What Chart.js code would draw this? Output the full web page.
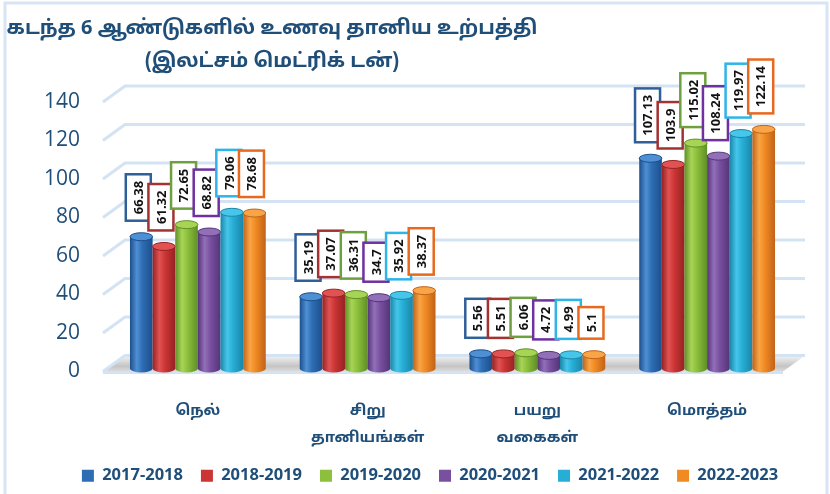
<!DOCTYPE html>
<html>
<head>
<meta charset="utf-8">
<script src="https://cdn.jsdelivr.net/npm/chart.js@4.4.1/dist/chart.umd.min.js"></script>
<style>
  html, body { margin: 0; padding: 0; background: #fff; }
  #wrap { width: 830px; height: 494px; }
</style>
</head>
<body>
<div id="wrap"><canvas id="grainChart"></canvas></div>
<script>
// data
const categories = [['நெல்'], ['சிறு', 'தானியங்கள்'], ['பயறு', 'வகைகள்'], ['மொத்தம்']];
const seriesNames = ['2017-2018', '2018-2019', '2019-2020', '2020-2021', '2021-2022', '2022-2023'];
const y2017 = [66.38, 35.19, 5.56, 107.13];
const y2018 = [61.32, 37.07, 5.51, 103.9];
const y2019 = [72.65, 36.31, 6.06, 115.02];
const y2020 = [68.82, 34.7, 4.72, 108.24];
const y2021 = [79.06, 35.92, 4.99, 119.97];
const y2022 = [78.68, 38.37, 5.1, 122.14];
const titleLines = ['கடந்த 6 ஆண்டுகளில் உணவு தானிய உற்பத்தி', '(இலட்சம் மெட்ரிக் டன்)'];

// colours: mid, dark edge, light highlight, label box border
const midCol = ['#2e6db4', '#cc3535', '#8cbf3c', '#7950a0', '#27aed6', '#f08a22'];
const darkCol = ['#1c4f8c', '#952222', '#5f8f26', '#553478', '#1a86a8', '#c0631a'];
const lightCol = ['#4f8fd4', '#e25252', '#a8d456', '#9270b8', '#45c6ea', '#f9a446'];
const boxCol = ['#2f5f98', '#a33232', '#6fa040', '#7030a0', '#2db5e8', '#e8691e'];
const navy = '#1f4e79';
const tamilFont = "'Noto Sans Tamil', 'Lohit Tamil', 'Noto Sans', 'DejaVu Sans', sans-serif";

const allSeries = [y2017, y2018, y2019, y2020, y2021, y2022];
const datasets = allSeries.map((vals, i) => ({
  label: seriesNames[i],
  data: vals,
  backgroundColor: 'rgba(0,0,0,0)', // cylinders are painted by the plugin
  borderWidth: 0,
  categoryPercentage: 0.8,
  barPercentage: 1.0
}));

// back wall offset for the fake 3d grid, and how far the bars sit up from the front
const DX = 22, DY = 16, LIFT = 7;

const frame3d = {
  id: 'frame3d',
  beforeDraw(chart) {
    const c = chart.ctx;
    c.save();
    c.fillStyle = '#fff';
    c.fillRect(0, 0, chart.width, chart.height);
    // outer frame
    c.strokeStyle = '#d6e4f3';
    c.lineWidth = 3;
    c.beginPath();
    c.moveTo(5, chart.height);
    c.lineTo(5, 3);
    c.lineTo(827, 3);
    c.lineTo(827, chart.height);
    c.stroke();
    // title
    c.fillStyle = navy;
    c.textAlign = 'center';
    c.textBaseline = 'middle';
    c.font = 'bold 20px ' + tamilFont;
    c.fillText(titleLines[0], 272, 30);
    c.fillText(titleLines[1], 272, 63);
    c.restore();
  },
  beforeDatasetsDraw(chart) {
    const c = chart.ctx;
    const ys = chart.scales.y;
    const a = chart.chartArea;
    c.save();
    // floor slab
    const y0 = ys.getPixelForValue(0);
    const g = c.createLinearGradient(0, y0 - DY, 0, y0 + 2);
    g.addColorStop(0, '#f4f4f4');
    g.addColorStop(0.6, '#c4c4c4');
    g.addColorStop(1, '#e6e6e6');
    c.fillStyle = g;
    c.beginPath();
    c.moveTo(a.left - 10, y0);
    c.lineTo(a.left - 10 + DX, y0 - DY);
    c.lineTo(a.right + 13, y0 - DY);
    c.lineTo(a.right - 9, y0);
    c.closePath();
    c.fill();
    // grid lines
    c.strokeStyle = '#d3e3f4';
    c.lineWidth = 3;
    ys.ticks.forEach(t => {
      const py = ys.getPixelForValue(t.value);
      c.beginPath();
      c.moveTo(a.left - 10, py);
      c.lineTo(a.left - 10 + DX, py - DY);
      c.lineTo(a.right + 13, py - DY);
      c.stroke();
    });
    c.beginPath();
    c.moveTo(a.left - 10, y0 + 1);
    c.lineTo(a.right - 9, y0 + 1);
    c.stroke();
    c.restore();
  },
  afterDatasetsDraw(chart) {
    const c = chart.ctx;
    c.save();
    // cylinders
    chart.data.datasets.forEach((ds, i) => {
      chart.getDatasetMeta(i).data.forEach(bar => {
        const p = bar.getProps(['x', 'y', 'base', 'width'], true);
        const x = p.x, w = p.width, top = p.y - LIFT, bot = p.base - 3;
        const l = x - w / 2, r = x + w / 2;
        const g = c.createLinearGradient(l, 0, r, 0);
        g.addColorStop(0, darkCol[i]);
        g.addColorStop(0.3, lightCol[i]);
        g.addColorStop(0.55, midCol[i]);
        g.addColorStop(1, darkCol[i]);
        c.fillStyle = g;
        c.beginPath();
        c.ellipse(x, bot, w / 2, 4, 0, 0, Math.PI);
        c.lineTo(l, top);
        c.lineTo(r, top);
        c.closePath();
        c.fill();
        c.fillStyle = lightCol[i];
        c.beginPath();
        c.ellipse(x, top, w / 2, 4, 0, 0, Math.PI * 2);
        c.fill();
        c.strokeStyle = darkCol[i];
        c.lineWidth = 1;
        c.stroke();
      });
    });
    // value labels in boxes, text turned on its side
    c.font = 'bold 13px "Open Sans", sans-serif';
    c.textAlign = 'center';
    c.textBaseline = 'middle';
    chart.data.datasets.forEach((ds, i) => {
      chart.getDatasetMeta(i).data.forEach((bar, j) => {
        const txt = String(ds.data[j]);
        const tw = c.measureText(txt).width;
        const bw = 25, bh = tw + 13;
        const cx = bar.x - 3;
        const bottom = bar.y - LIFT - 16;
        c.fillStyle = '#fff';
        c.fillRect(cx - bw / 2, bottom - bh, bw, bh);
        c.strokeStyle = boxCol[i];
        c.lineWidth = 2.5;
        c.strokeRect(cx - bw / 2, bottom - bh, bw, bh);
        c.save();
        c.translate(cx + 1, bottom - bh / 2);
        c.rotate(-Math.PI / 2);
        c.fillStyle = '#111';
        c.fillText(txt, 0, 0);
        c.restore();
      });
    });
    c.restore();
  }
};

const ctx = document.getElementById('grainChart').getContext('2d');
new Chart(ctx, {
  type: 'bar',
  data: { labels: categories, datasets: datasets },
  plugins: [frame3d],
  options: {
    responsive: true,
    maintainAspectRatio: false,
    animation: false,
    layout: { padding: { top: 102, right: 0, left: 30, bottom: 0 } },
    plugins: {
      title: { display: false },
      tooltip: { enabled: false },
      legend: {
        position: 'bottom',
        labels: {
          boxWidth: 12,
          boxHeight: 12,
          padding: 18,
          color: navy,
          font: { family: "'Open Sans', sans-serif", size: 16.5, weight: 'bold' },
          generateLabels(chart) {
            return Chart.defaults.plugins.legend.labels.generateLabels(chart).map((item, i) => ({
              ...item, fillStyle: midCol[i], strokeStyle: midCol[i], lineWidth: 0
            }));
          }
        }
      }
    },
    scales: {
      x: {
        grid: { display: false },
        border: { display: false },
        ticks: {
          color: navy,
          padding: 19,
          font: { family: tamilFont, size: 15, weight: 'bold', lineHeight: 1.8 }
        },
        afterFit(scale) { scale.height = 78; }
      },
      y: {
        min: 0,
        max: 140,
        grid: { display: false },
        border: { display: false },
        ticks: {
          stepSize: 20,
          color: navy,
          padding: 25,
          font: { family: "'Open Sans', sans-serif", size: 21 }
        },
        afterFit(scale) { scale.width = 83; }
      },
      yRight: {
        position: 'right',
        grid: { display: false },
        border: { display: false },
        ticks: { display: false },
        afterFit(scale) { scale.width = 38; }
      }
    }
  }
});
</script>
</body>
</html>
